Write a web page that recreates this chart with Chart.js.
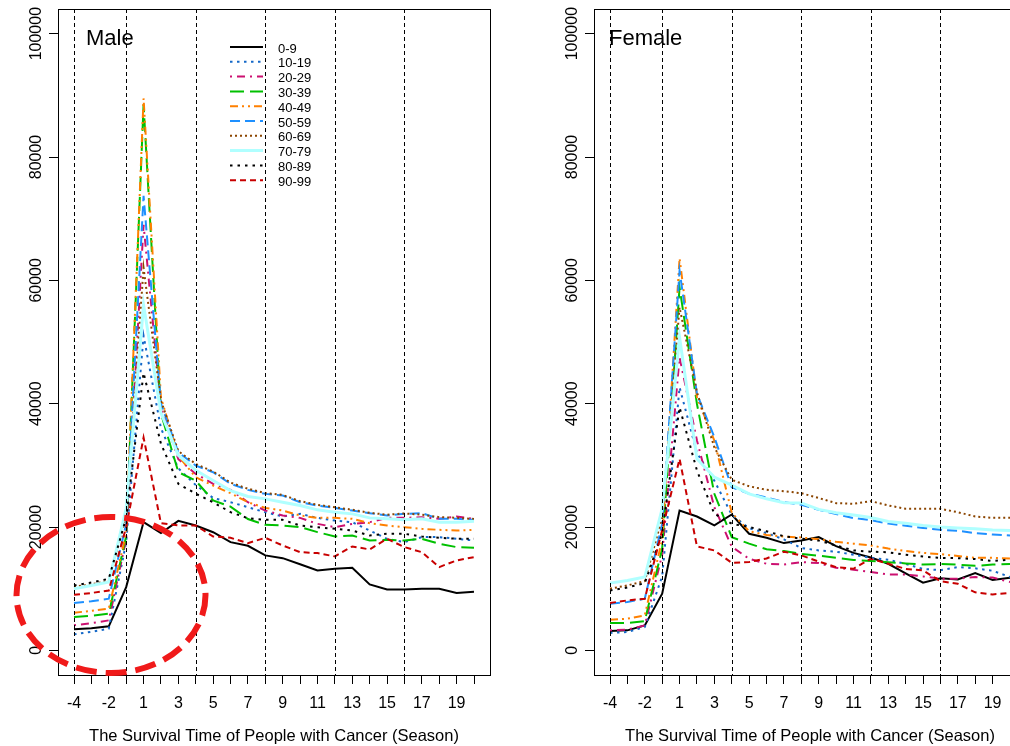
<!DOCTYPE html>
<html>
<head>
<meta charset="utf-8">
<script src="https://cdn.jsdelivr.net/npm/chart.js@4.4.1/dist/chart.umd.min.js"></script>
<style>
html, body { margin: 0; padding: 0; background: #fff; overflow: hidden; }
#wrap { position: relative; width: 1010px; height: 746px; overflow: hidden; }
#wrap canvas { position: absolute; top: 0; }
</style>
</head>
<body>
<div id="wrap">
  <canvas id="male" width="536" height="746" style="left:0px"></canvas>
  <canvas id="female" width="536" height="746" style="left:536px"></canvas>
</div>
<script>
// ---- data ----
const seasons = ['-4', '-3', '-2', '-1', '1', '2', '3', '4', '5', '6', '7', '8', '9', '10',
    '11', '12', '13', '14', '15', '16', '17', '18', '19', '20'];
const markSeasons = ['-4', '-1', '4', '8', '12', '16'];
const yTicks = [0, 20000, 40000, 60000, 80000, 100000];
const groups = ['0-9', '10-19', '20-29', '30-39', '40-49', '50-59', '60-69', '70-79', '80-89', '90-99'];
const xTitle = 'The Survival Time of People with Cancer (Season)';

// Male
const m0_9   = [3400, 3600, 3900, 10250, 20800, 19000, 21000, 20250, 19150, 17550, 16950, 15400, 14950, 13970, 12950, 13230, 13390, 10690, 9880, 9880, 9990, 9990, 9290, 9500];
const m10_19 = [2590, 3000, 3510, 17500, 51000, 36000, 29500, 26800, 24700, 24020, 23210, 22400, 21700, 22130, 21480, 21050, 20780, 19430, 18090, 17550, 18360, 18360, 18090, 17810];
const m20_29 = [4050, 4400, 4860, 18000, 69000, 39500, 31000, 28610, 27000, 26020, 24020, 22670, 21860, 21480, 20510, 19970, 20510, 20780, 21480, 21480, 21590, 21330, 21700, 21330];
const m30_39 = [5400, 5600, 5940, 18500, 88500, 38400, 28900, 27500, 24300, 23300, 21300, 20350, 20250, 19980, 19170, 18460, 18620, 17800, 17920, 17800, 18090, 17270, 16740, 16630];
const m40_49 = [6100, 6400, 6750, 19000, 89500, 41000, 31500, 28070, 26720, 25480, 24020, 23100, 22670, 21860, 21480, 21480, 21330, 20620, 20240, 19970, 19700, 19540, 19430, 19540];
const m50_59 = [7670, 7950, 8370, 20500, 73700, 40000, 32100, 29960, 28880, 27000, 26020, 25370, 25100, 24020, 23480, 23100, 22670, 22240, 21860, 22130, 22240, 21330, 21330, 21160];
const m60_69 = [10300, 10700, 11300, 22000, 62000, 40500, 32300, 30230, 29000, 27200, 26200, 25500, 25200, 24200, 23600, 23200, 22800, 22300, 22000, 22200, 22000, 21600, 21500, 21300];
const m70_79 = [9990, 10500, 11070, 23000, 56000, 38500, 31600, 29200, 27530, 25910, 24940, 24560, 24020, 23480, 22780, 22400, 22130, 21480, 21330, 21160, 21330, 20780, 20780, 20940];
const m80_89 = [10530, 11000, 11610, 21500, 45000, 33500, 27000, 25400, 24020, 22400, 21430, 21160, 21160, 20240, 19970, 19700, 19430, 18620, 18900, 18900, 18460, 18250, 18090, 18090];
const m90_99 = [9000, 9300, 9700, 20000, 34500, 20600, 20250, 20250, 18460, 18250, 17380, 18250, 17000, 15920, 15770, 15230, 16850, 16360, 18090, 16740, 15920, 13500, 14580, 15120];

// Female
const f0_9   = [3130, 3240, 4050, 9180, 22680, 21700, 20250, 22030, 18900, 18250, 17390, 17820, 18360, 16900, 15800, 15060, 14040, 12480, 10980, 11690, 11480, 12530, 11400, 11770];
const f10_19 = [2810, 2970, 3780, 12000, 42650, 32000, 27500, 22000, 19800, 19000, 18000, 16600, 16200, 16000, 15500, 15000, 14700, 14000, 13200, 13000, 13500, 13300, 12900, 11900];
const f20_29 = [3240, 3350, 4050, 15500, 47500, 34020, 23210, 16800, 14850, 14040, 13930, 14310, 14150, 13390, 13070, 12690, 12310, 12310, 11990, 11610, 11610, 11880, 11800, 11070];
const f30_39 = [4430, 4430, 4750, 16500, 58860, 39950, 25380, 18360, 17300, 16400, 16100, 15650, 15350, 15000, 14650, 14500, 14300, 14100, 13900, 14000, 13900, 13700, 13900, 14000];
const f40_49 = [4970, 5130, 5670, 18000, 63600, 41000, 34000, 22300, 19300, 18700, 18450, 18300, 18000, 17600, 17300, 17000, 16500, 16100, 15800, 15600, 15300, 15000, 15000, 14900];
const f50_59 = [7560, 7830, 8370, 20500, 61560, 41580, 34560, 26460, 25400, 24800, 24030, 23600, 22800, 22100, 21450, 21100, 20550, 20200, 19850, 19550, 19400, 19000, 18790, 18630];
const f60_69 = [9990, 10530, 11230, 21500, 55600, 41850, 32930, 27650, 26600, 26030, 25800, 25480, 24700, 23870, 23760, 24190, 23500, 22950, 22950, 22950, 22400, 21700, 21490, 21490];
const f70_79 = [10900, 11340, 11880, 23000, 50750, 31050, 28070, 26800, 25380, 24570, 23950, 23900, 22850, 22300, 21950, 21550, 20900, 20600, 20250, 20000, 19850, 19700, 19500, 19440];
const f80_89 = [9700, 10200, 10900, 19000, 39400, 29160, 22140, 20520, 20000, 19300, 18500, 18100, 17800, 17000, 16200, 16000, 15900, 15500, 15200, 15000, 14950, 14800, 14500, 14700];
const f90_99 = [7670, 8100, 8370, 19500, 31050, 16850, 16200, 14200, 14310, 14900, 16000, 15390, 14400, 13500, 13230, 14850, 14040, 13200, 12960, 11200, 10800, 9400, 9070, 9290];

const maleSeries = [m0_9, m10_19, m20_29, m30_39, m40_49, m50_59, m60_69, m70_79, m80_89, m90_99];
const femaleSeries = [f0_9, f10_19, f20_29, f30_39, f40_49, f50_59, f60_69, f70_79, f80_89, f90_99];

// ---- styles ----
const colors = ['#000000', '#1468c8', '#cc1070', '#00c000', '#ff8000', '#1e90ff', '#8b4500', '#b0ffff', '#000000', '#c80000'];
const dashes = [[], [2.5, 4.5], [2, 5, 8, 5], [14, 6], [8, 4, 2, 4, 2, 4], [10, 5], [2, 3], [], [2.5, 5], [6, 4]];
const widths = [2, 2, 2, 2, 2, 2, 2, 3, 2, 2];
const FONT = '"Liberation Sans", Arial, Helvetica, sans-serif';

function makeDatasets(series) {
    return series.map((vals, k) => ({
        label: groups[k],
        data: vals.map((v, i) => ({ x: i, y: v })),
        borderColor: colors[k],
        borderDash: dashes[k],
        borderWidth: widths[k],
        borderCapStyle: 'butt',
        pointRadius: 0,
        tension: 0,
        fill: false,
        order: groups.length - k
    }));
}

// box, reference lines, y labels, panel name, legend, circle
function framePlugin(panelName, nameX, withLegend, withCircle) {
    return {
        id: 'frame',
        afterDatasetsDraw(chart) {
            const { ctx, chartArea: a, scales: { x, y } } = chart;
            ctx.save();
            ctx.strokeStyle = '#000';
            ctx.lineWidth = 1;
            ctx.setLineDash([4, 3]);
            markSeasons.forEach(s => {
                const px = Math.round(x.getPixelForValue(seasons.indexOf(s))) + 0.5;
                ctx.beginPath();
                ctx.moveTo(px, a.top);
                ctx.lineTo(px, a.bottom);
                ctx.stroke();
            });
            ctx.setLineDash([]);
            ctx.strokeRect(a.left + 0.5, a.top + 0.5, a.right - a.left, a.bottom - a.top);
            ctx.restore();
        },
        afterDraw(chart) {
            const { ctx, chartArea: a, scales: { y } } = chart;
            ctx.save();
            ctx.fillStyle = '#000';
            // y tick labels, rotated like R's las=0
            ctx.font = '16px ' + FONT;
            ctx.textAlign = 'center';
            ctx.textBaseline = 'middle';
            y.ticks.forEach(t => {
                ctx.save();
                ctx.translate(a.left - 21, y.getPixelForValue(t.value));
                ctx.rotate(-Math.PI / 2);
                ctx.fillText(String(t.value), 0, 0);
                ctx.restore();
            });
            // panel name
            ctx.font = '22px ' + FONT;
            ctx.textAlign = 'left';
            ctx.textBaseline = 'alphabetic';
            ctx.fillText(panelName, nameX, 45);

            if (withLegend) {
                ctx.font = '13px ' + FONT;
                ctx.textBaseline = 'middle';
                chart.data.datasets.forEach((ds, k) => {
                    const ly = 47 + k * 14.8;
                    ctx.strokeStyle = ds.borderColor;
                    ctx.lineWidth = ds.borderWidth;
                    ctx.setLineDash(ds.borderDash);
                    ctx.beginPath();
                    ctx.moveTo(230, ly);
                    ctx.lineTo(263, ly);
                    ctx.stroke();
                    ctx.setLineDash([]);
                    ctx.fillStyle = '#000';
                    ctx.fillText(ds.label, 278, ly + 2);
                });
            }
            if (withCircle) {
                ctx.strokeStyle = '#f01a1a';
                ctx.lineWidth = 6;
                ctx.setLineDash([21, 9]);
                ctx.beginPath();
                ctx.ellipse(111, 595, 94.5, 78, 0, 0, Math.PI * 2);
                ctx.stroke();
            }
            ctx.restore();
        }
    };
}

function makeChart(id, series, plugin) {
    return new Chart(document.getElementById(id), {
        type: 'line',
        data: { datasets: makeDatasets(series) },
        options: {
            responsive: false,
            animation: false,
            layout: { padding: { top: 9, right: 46, left: 0, bottom: 0 } },
            plugins: { legend: { display: false }, tooltip: { enabled: false } },
            scales: {
                x: {
                    type: 'linear',
                    min: -0.92,
                    max: 23.92,
                    afterBuildTicks: s => { s.ticks = seasons.map((_, i) => ({ value: i })); },
                    afterFit: s => { s.height = 71; },
                    ticks: {
                        autoSkip: false, maxRotation: 0, minRotation: 0, padding: 10,
                        color: '#000', font: { family: FONT, size: 16 },
                        callback: v => (v % 2 === 0 ? seasons[v] : '')
                    },
                    grid: { display: true, drawOnChartArea: false, drawTicks: true, tickLength: 9, color: '#000', lineWidth: 1 },
                    border: { display: false },
                    title: {
                        display: true, text: xTitle, color: '#000',
                        font: { family: FONT, size: 16.5, lineHeight: 1.1 }, padding: 0
                    }
                },
                y: {
                    type: 'linear',
                    min: -4000,
                    max: 104000,
                    afterBuildTicks: s => { s.ticks = yTicks.map(v => ({ value: v })); },
                    afterFit: s => { s.width = 58; },
                    ticks: { display: false },
                    grid: { display: true, drawOnChartArea: false, drawTicks: true, tickLength: 9, color: '#000', lineWidth: 1 },
                    border: { display: false }
                }
            }
        },
        plugins: [plugin]
    });
}

makeChart('male', maleSeries, framePlugin('Male', 86, true, true));
makeChart('female', femaleSeries, framePlugin('Female', 73, false, false));
</script>
</body>
</html>
